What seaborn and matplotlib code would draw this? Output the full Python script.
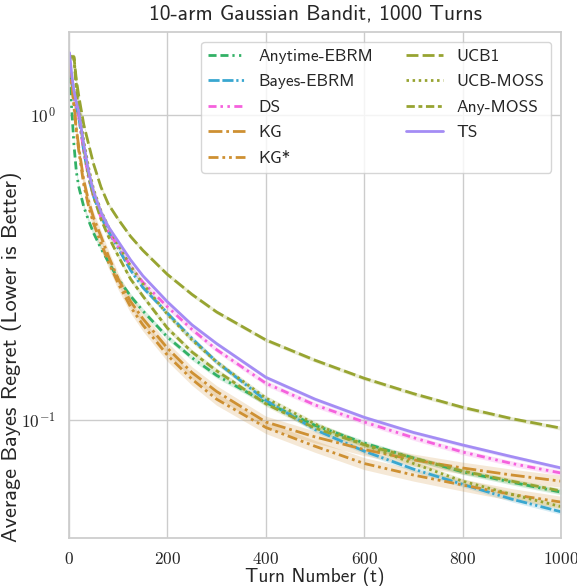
import numpy as np
import pandas as pd
import matplotlib
matplotlib.use("Agg")
import matplotlib.pyplot as plt
import seaborn as sns
from matplotlib.ticker import FixedLocator, NullLocator, NullFormatter, FixedFormatter

# ---- data ----
turns = [1, 5, 10, 15, 20, 30, 40, 50, 65, 80, 100, 125, 150, 200, 250, 300, 400, 500, 600, 700, 800, 900, 1000]

anytime_ebrm = [1.35, 1.08, 0.80, 0.65, 0.58, 0.50, 0.45, 0.41, 0.365, 0.33, 0.29, 0.255, 0.228, 0.187, 0.160, 0.140, 0.114, 0.096, 0.084, 0.075, 0.0676, 0.0625, 0.058]
bayes_ebrm   = [1.45, 1.30, 1.15, 1.06, 0.98, 0.76, 0.62, 0.54, 0.465, 0.415, 0.365, 0.31, 0.272, 0.224, 0.185, 0.155, 0.116, 0.093, 0.079, 0.069, 0.0615, 0.055, 0.050]
ds           = [1.50, 1.30, 1.15, 1.07, 0.98, 0.76, 0.62, 0.54, 0.46, 0.415, 0.37, 0.32, 0.283, 0.235, 0.198, 0.170, 0.132, 0.112, 0.0985, 0.0875, 0.0785, 0.072, 0.067]
kg           = [1.50, 1.30, 1.10, 0.90, 0.78, 0.61, 0.52, 0.46, 0.40, 0.345, 0.29, 0.245, 0.215, 0.172, 0.143, 0.124, 0.0985, 0.088, 0.080, 0.074, 0.0696, 0.066, 0.063]
kg_star      = [1.50, 1.28, 1.07, 0.88, 0.76, 0.59, 0.50, 0.44, 0.38, 0.33, 0.28, 0.235, 0.205, 0.163, 0.136, 0.117, 0.0945, 0.082, 0.072, 0.066, 0.0612, 0.057, 0.0538]
ucb1         = [1.55, 1.55, 1.55, 1.30, 1.15, 0.93, 0.80, 0.69, 0.58, 0.51, 0.455, 0.40, 0.36, 0.30, 0.258, 0.226, 0.183, 0.157, 0.137, 0.122, 0.110, 0.101, 0.094]
ucb_moss     = [1.55, 1.55, 1.55, 1.25, 1.08, 0.82, 0.67, 0.57, 0.485, 0.43, 0.375, 0.32, 0.28, 0.222, 0.183, 0.155, 0.118, 0.097, 0.083, 0.072, 0.063, 0.057, 0.052]
any_moss     = [1.55, 1.55, 1.55, 1.20, 1.02, 0.78, 0.63, 0.54, 0.455, 0.40, 0.345, 0.29, 0.255, 0.200, 0.167, 0.145, 0.113, 0.094, 0.083, 0.075, 0.068, 0.063, 0.0585]
ts           = [1.60, 1.38, 1.20, 1.10, 1.02, 0.80, 0.65, 0.56, 0.48, 0.43, 0.385, 0.335, 0.297, 0.244, 0.205, 0.178, 0.138, 0.117, 0.102, 0.091, 0.0828, 0.0758, 0.0696]

methods = ["Anytime-EBRM", "Bayes-EBRM", "DS", "KG", "KG*", "UCB1", "UCB-MOSS", "Any-MOSS", "TS"]
series = [anytime_ebrm, bayes_ebrm, ds, kg, kg_star, ucb1, ucb_moss, any_moss, ts]
# relative half-width of the shaded confidence band
band_rel = [0.02, 0.02, 0.02, 0.045, 0.045, 0.015, 0.02, 0.02, 0.015]

x_ticks = [0, 200, 400, 600, 800, 1000]
y_ticks = [0.1, 1.0]
y_tick_labels = [r"$10^{-1}$", r"$10^{0}$"]

# ---- styling ----
sns.set_theme(style="whitegrid")
plt.rcParams["font.family"] = ["cmss10", "DejaVu Sans"]
plt.rcParams["mathtext.fontset"] = "cm"
plt.rcParams["axes.unicode_minus"] = False
plt.rcParams["axes.formatter.use_mathtext"] = True

hp = sns.color_palette("husl", 8)
palette = {
    "Anytime-EBRM": hp[3], "Bayes-EBRM": hp[5], "DS": hp[7], "KG": hp[1], "KG*": hp[1],
    "UCB1": hp[2], "UCB-MOSS": hp[2], "Any-MOSS": hp[2], "TS": hp[6],
}
dashes = {
    "Anytime-EBRM": (2.9, 1.4, 2.9, 1.4, 0.8, 1.6, 0.8, 1.6),
    "Bayes-EBRM": (4.0, 1.0, 4.0, 1.0, 0.8, 1.2, 0.8, 1.2),
    "DS": (2.9, 1.4, 0.9, 1.6, 0.9, 1.6),
    "KG": (5.0, 1.4, 1.0, 1.4),
    "KG*": (3.6, 1.4, 1.0, 1.4, 1.0, 1.4),
    "UCB1": (4.3, 1.5),
    "UCB-MOSS": (0.9, 1.3),
    "Any-MOSS": (3.0, 1.3, 1.4, 1.3),
    "TS": "",
}

rows = []
for m, vals in zip(methods, series):
    for t, v in zip(turns, vals):
        rows.append({"Turn": t, "Regret": v, "Method": m})
df = pd.DataFrame(rows)

fig, ax = plt.subplots(figsize=(5.77, 5.86), dpi=100)
fig.subplots_adjust(left=0.1196, right=0.9723, top=0.9454, bottom=0.0819)

for m, vals, r in zip(methods, series, band_rel):
    v = np.array(vals)
    ax.fill_between(turns, v * (1 - r), v * (1 + r), color=palette[m], alpha=0.2, lw=0)

sns.lineplot(data=df, x="Turn", y="Regret", hue="Method", style="Method",
             hue_order=methods, style_order=methods, palette=palette, dashes=dashes,
             linewidth=2.0, ax=ax, errorbar=None)

ax.set_yscale("log")
ax.set_xlim(0, 1000)
ax.set_ylim(0.04102, 1.871)
ax.xaxis.set_major_locator(FixedLocator(x_ticks))
ax.set_xticklabels([f"${t}$" for t in x_ticks], fontsize=12.5)
ax.yaxis.set_major_locator(FixedLocator(y_ticks))
ax.yaxis.set_major_formatter(FixedFormatter(y_tick_labels))
ax.yaxis.set_minor_locator(NullLocator())
ax.yaxis.set_minor_formatter(NullFormatter())
for lab in ax.get_yticklabels():
    lab.set_fontsize(12.5)

ax.set_xlabel("Turn Number (t)", fontsize=14, labelpad=0)
ax.set_ylabel("Average Bayes Regret (Lower is Better)", fontsize=16)
ax.yaxis.set_label_coords(-0.095, 0.358)
ax.set_title("10-arm Gaussian Bandit, 1000 Turns", fontsize=15.5, pad=9)

leg = ax.legend(ncol=2, loc="upper right", fontsize=12.5, handlelength=2.1,
                columnspacing=1.9, labelspacing=0.6, frameon=True, borderaxespad=0.55)
for h in leg.get_lines():
    h.set_linewidth(2.0)

fig.savefig("out.png", dpi=100)
